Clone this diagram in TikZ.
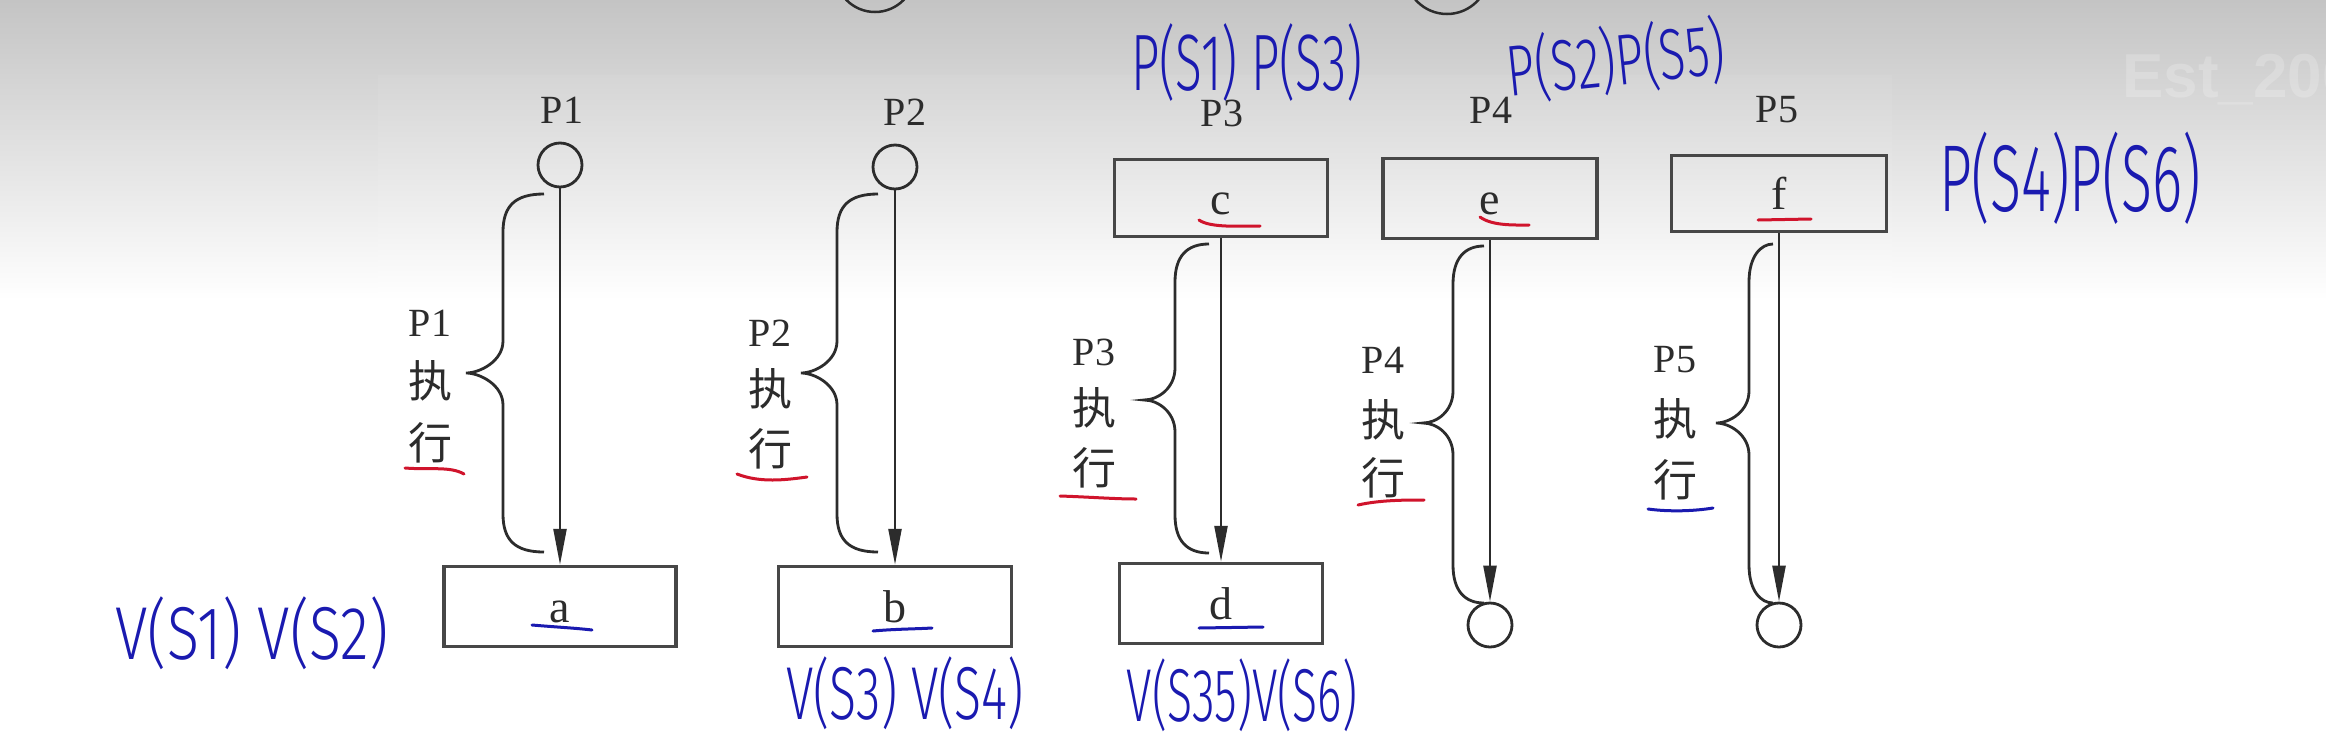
\documentclass[tikz,border=0pt]{standalone}
\usepackage{fontspec}
\setmainfont{Liberation Serif}
\newfontfamily\cjkfont{Noto Sans CJK SC}
\newfontfamily\handfont{Fira Sans}[UprightFont={* Light}]
\newfontfamily\wmfont{Liberation Sans}
\usetikzlibrary{arrows.meta}

\definecolor{ink}{HTML}{2C2C2C}
\definecolor{boxline}{HTML}{474747}
\definecolor{penblue}{HTML}{1A1AB0}
\definecolor{penred}{HTML}{D0142C}
\definecolor{topgray}{HTML}{C4C4C4}
\definecolor{figgray}{HTML}{D5D5D5}

\newcommand\handtxt[3]{\scalebox{#1}[1]{\handfont\fontsize{#2}{#2}\selectfont #3}}
\newcommand\procbrace[6]{%
  \draw[bracepath] (#1,-#4) .. controls (#2+12,-#4) and (#2,-#4-12) .. (#2,-#4-38)
    -- (#2,-#5+32) .. controls (#2,-#5+12) and (#3+14,-#5) .. (#3,-#5)
    .. controls (#3+14,-#5) and (#2,-#5-12) .. (#2,-#5-32)
    -- (#2,-#6+38) .. controls (#2,-#6+12) and (#2+12,-#6) .. (#1,-#6);}

\tikzset{
  box/.style={draw=boxline, line width=3.5pt, inner sep=0pt, text=ink,
    font=\fontsize{46}{46}\selectfont, text height=32pt, text depth=0pt},
  endcirc/.style={circle, draw=ink, line width=2.8pt, minimum size=44pt, inner sep=0pt},
  plabel/.style={font=\fontsize{40}{40}\selectfont, text=ink, inner sep=0pt},
  cjk/.style={font=\cjkfont\fontsize{44}{44}\selectfont, text=ink, inner sep=0pt},
  flow/.style={draw=ink, line width=2.4pt, -{Triangle[length=36pt,width=13pt]}},
  bracepath/.style={draw=ink, line width=2.8pt},
  hand/.style={text=penblue, inner sep=0pt},
  uline/.style={line width=3pt, line cap=round},
}

\begin{document}
\begin{tikzpicture}[x=1pt,y=1pt]
\useasboundingbox (0,-745) rectangle (2326,0);
\clip (0,-745) rectangle (2326,0);
% background
\fill[white] (0,-745) rectangle (2326,0);
\shade[top color=topgray, bottom color=white] (0,-300) rectangle (2326,0);
\shade[top color=figgray, bottom color=white] (378,-300) rectangle (1892,-75);
\fill[white] (378,-660) rectangle (1892,-299);
\node[font=\wmfont\bfseries\fontsize{62}{62}\selectfont, text=white, opacity=0.2, anchor=west, inner sep=0pt] (wm) at (2122,-80) {Est\_200};

% partial circles at top
\draw[ink, line width=2.5pt] (875,28) circle (40);
\draw[ink, line width=2.5pt] (1447,28) circle (42);

% top labels
\node[plabel] (t1) at (562,-110) {P1};
\node[plabel] (t2) at (905,-112) {P2};
\node[plabel] (t3) at (1222,-113) {P3};
\node[plabel] (t4) at (1491,-110) {P4};
\node[plabel] (t5) at (1777,-110) {P5};

% start / end circles
\node[endcirc] (p1c) at (560,-165) {};
\node[endcirc] (p2c) at (895,-167) {};
\node[endcirc] (p4c) at (1490,-625) {};
\node[endcirc] (p5c) at (1779,-625) {};

% boxes
\node[box, minimum width=232pt, minimum height=80pt] (a) at (560,-606.5) {a};
\node[box, minimum width=233pt, minimum height=80pt] (b) at (895,-606.5) {b};
\node[box, minimum width=203pt, minimum height=80pt] (d) at (1221,-603.5) {d};
\node[box, minimum width=213pt, minimum height=77pt] (c) at (1221,-198) {c};
\node[box, minimum width=214pt, minimum height=80pt] (e) at (1490,-198.5) {e};
\node[box, minimum width=215pt, minimum height=76pt] (f) at (1779,-193.5) {f};

% arrows
\draw[flow] (p1c) -- (a);
\draw[flow] (p2c) -- (b);
\draw[flow] (c) -- (d);
\draw[flow] (e) -- (p4c);
\draw[flow] (f) -- (p5c);

% braces
\procbrace{544}{503}{466}{194}{373}{552}
\procbrace{878}{837}{801}{194}{373}{552}
\procbrace{1209}{1175}{1144}{244}{400}{553}
\procbrace{1484}{1453}{1423}{246}{423}{603}
\procbrace{1773}{1749}{1716}{244}{423}{603}

% side labels
\node[plabel] (l1a) at (430,-323) {P1};
\node[cjk] (l1b) at (430,-381) {执};
\node[cjk] (l1c) at (430,-443) {行};
\node[plabel] (l2a) at (770,-333) {P2};
\node[cjk] (l2b) at (770,-389) {执};
\node[cjk] (l2c) at (770,-449) {行};
\node[plabel] (l3a) at (1094,-352) {P3};
\node[cjk] (l3b) at (1094,-408) {执};
\node[cjk] (l3c) at (1094,-468) {行};
\node[plabel] (l4a) at (1383,-360) {P4};
\node[cjk] (l4b) at (1383,-420) {执};
\node[cjk] (l4c) at (1383,-478) {行};
\node[plabel] (l5a) at (1675,-360) {P5};
\node[cjk] (l5b) at (1675,-419) {执};
\node[cjk] (l5c) at (1675,-480) {行};

% hand-drawn underlines
\draw[uline, penred] (405,-468) .. controls (430,-470) and (450,-466) .. (464,-474);
\draw[uline, penred] (737,-474) .. controls (760,-483) and (785,-480) .. (807,-477);
\draw[uline, penred] (1060,-496) .. controls (1090,-497) and (1115,-499) .. (1136,-499);
\draw[uline, penred] (1358,-505) .. controls (1380,-500) and (1405,-500) .. (1424,-500);
\draw[uline, penblue] (1648,-509) .. controls (1670,-512) and (1695,-511) .. (1713,-508);
\draw[uline, penred] (1199,-220) .. controls (1210,-228) and (1240,-226) .. (1260,-226);
\draw[uline, penred] (1480,-217) .. controls (1492,-226) and (1515,-225) .. (1529,-225);
\draw[uline, penred] (1758,-220) -- (1811,-219);
\draw[uline, penblue] (532,-625) .. controls (555,-627) and (575,-628) .. (592,-630);
\draw[uline, penblue] (873,-631) .. controls (895,-629) and (915,-629) .. (932,-628);
\draw[uline, penblue] (1199,-628) -- (1263,-627);

% handwritten annotations
\node[hand] (h1) at (1247,-62) {\handtxt{0.62}{80}{P(S1) P(S3)}};
\node[hand, rotate=6] (h2) at (1616,-60) {\handtxt{0.68}{72}{P(S2)P(S5)}};
\node[hand] (h3) at (2070,-178) {\handtxt{0.605}{95}{P(S4)P(S6)}};
\node[hand] (h4) at (252,-633) {\handtxt{0.79}{75}{V(S1) V(S2)}};
\node[hand] (h5) at (905,-693) {\handtxt{0.667}{75}{V(S3) V(S4)}};
\node[hand] (h6) at (1242,-695) {\handtxt{0.62}{75}{V(S35)V(S6)}};
\end{tikzpicture}
\end{document}
